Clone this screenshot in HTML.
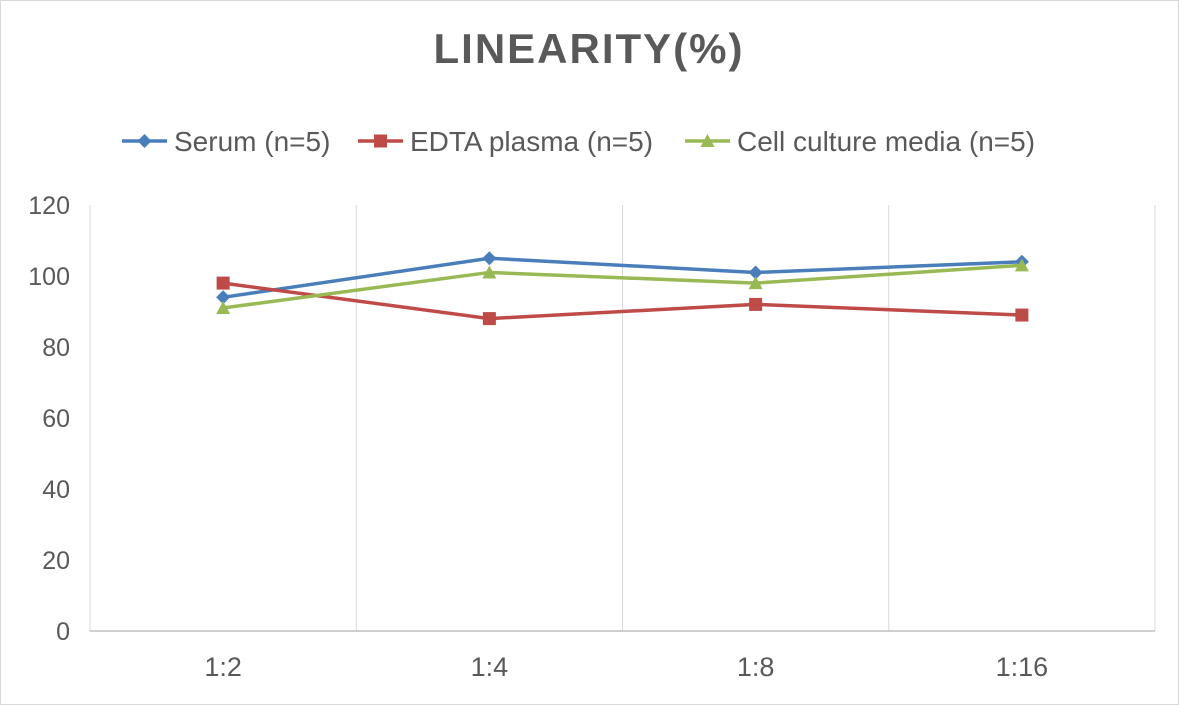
<!DOCTYPE html>
<html><head><meta charset="utf-8"><style>
body{margin:0;background:#fff;}
svg{display:block;font-family:"Liberation Sans",sans-serif;}
</style></head><body>
<svg id="chart" width="1179" height="705" xmlns="http://www.w3.org/2000/svg">
<rect x="0.5" y="0.5" width="1178" height="704" fill="#fff" stroke="#d9d9d9"/>
<text x="589" y="63" text-anchor="middle" font-size="42" font-weight="bold" fill="#595959" letter-spacing="2">LINEARITY(%)</text>
<g id="legend"></g>
<g id="grid"></g>
<g id="axes"></g>
<g id="series"></g>
</svg>
<script>
const categories=["1:2","1:4","1:8","1:16"];
const serum=[94,105,101,104];
const edta=[98,88,92,89];
const cell=[91,101,98,103];
const yTicks=[0,20,40,60,80,100,120];
const seriesNames=["Serum (n=5)","EDTA plasma (n=5)","Cell culture media (n=5)"];
const NS="http://www.w3.org/2000/svg";
const L=90,R=1155,T=205,B=631,yMax=120;
const band=(R-L)/categories.length;
function xs(i){return L+band*(i+0.5);}
function ys(v){return B-(v/yMax)*(B-T);}
function mk(tag,attrs,parent,text){const e=document.createElementNS(NS,tag);for(const k in attrs)e.setAttribute(k,attrs[k]);if(text!==undefined)e.textContent=text;parent.appendChild(e);return e;}
const grid=document.getElementById('grid'),axes=document.getElementById('axes'),ser=document.getElementById('series'),leg=document.getElementById('legend');
for(let i=0;i<=categories.length;i++){
 const x=L+band*i;
 const ln=mk('line',{x1:x,x2:x,y1:T,y2:B,stroke:'#d9d9d9','stroke-width':1},grid);
 
 
}
const ax=mk('line',{x1:L,x2:R,y1:B,y2:B,stroke:'#bfbfbf','stroke-width':1.5},axes);


yTicks.forEach(v=>{
 const t=mk('text',{x:70,y:ys(v)+9,'text-anchor':'end','font-size':25,fill:'#595959'},axes,String(v));
 
 
});
categories.forEach((c,i)=>{
 const t=mk('text',{x:xs(i),y:676,'text-anchor':'middle','font-size':27,fill:'#595959'},axes,c);
 
 
});
const colors=["#4a7ebb","#be4b48","#98b954"];
function marker(shape,x,y,color,g){
 let e;
 if(shape===0)e=mk('polygon',{points:`${x},${y-7} ${x+7},${y} ${x},${y+7} ${x-7},${y}`,fill:color},g);
 else if(shape===1)e=mk('rect',{x:x-6.5,y:y-6.5,width:13,height:13,fill:color},g);
 else e=mk('polygon',{points:`${x},${y-7} ${x+7},${y+6} ${x-7},${y+6}`,fill:color},g);
 
 
}
[serum,edta,cell].forEach((vals,s)=>{
 const g=mk('g',{},ser);
 
 
 const p=mk('polyline',{points:vals.map((v,i)=>xs(i)+','+ys(v)).join(' '),fill:'none',stroke:colors[s],'stroke-width':3.5},g);
 
 
 vals.forEach((v,i)=>marker(s,xs(i),ys(v),colors[s],g));
});
const legX=[122,358,685];
seriesNames.forEach((n,s)=>{
 const g=mk('g',{},leg);
 
 
 const x=legX[s],y=141;
 mk('line',{x1:x,x2:x+45,y1:y,y2:y,stroke:colors[s],'stroke-width':3.5},g);
 marker(s,x+22.5,y,colors[s],g);
 mk('text',{x:x+52,y:y+10,'font-size':28,fill:'#595959'},g,n);
});
</script>
</body></html>
